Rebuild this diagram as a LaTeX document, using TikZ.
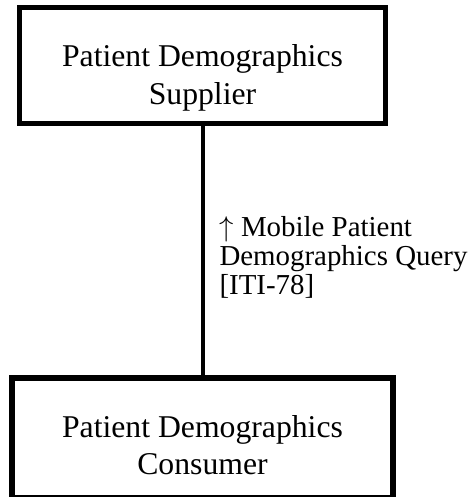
\documentclass[tikz,border=0pt]{standalone}
\usepackage{fontspec}
\setmainfont{Liberation Serif}
\usetikzlibrary{calc}

\begin{document}
\begin{tikzpicture}[x=1pt, y=-1pt,
    actor/.style={draw, rectangle, line width=5.5pt, inner sep=0pt, minimum width=366pt, minimum height=116pt},
    actortext/.style={align=center, inner sep=0pt, anchor=north, font=\fontsize{31.7}{37.4}\selectfont},
    txlabel/.style={align=left, inner sep=0pt, font=\fontsize{28.9}{29}\selectfont}]
      \useasboundingbox (0,0) rectangle (471,497);
      \node [actor] (supplier) at (202.5,65.5) {};
      \node [actortext] (suppliername) at ($(supplier.north)+(0,40)$) {Patient Demographics\\Supplier};
      \node [actor, minimum width=381pt, minimum height=119.5pt] (consumer) at (202.5,437.75) {};
      \node [actortext] (consumername) at ($(consumer.north)+(0,40)$) {Patient Demographics\\Consumer};
      \draw [line width=4pt] (supplier) -- (consumer)
        node [txlabel, midway, anchor=west, xshift=15pt, yshift=-7pt] (iti78) {\scalebox{1.15}{$\uparrow$} Mobile Patient\\Demographics Query\\{[ITI-78]}};
    \end{tikzpicture}
\end{document}
